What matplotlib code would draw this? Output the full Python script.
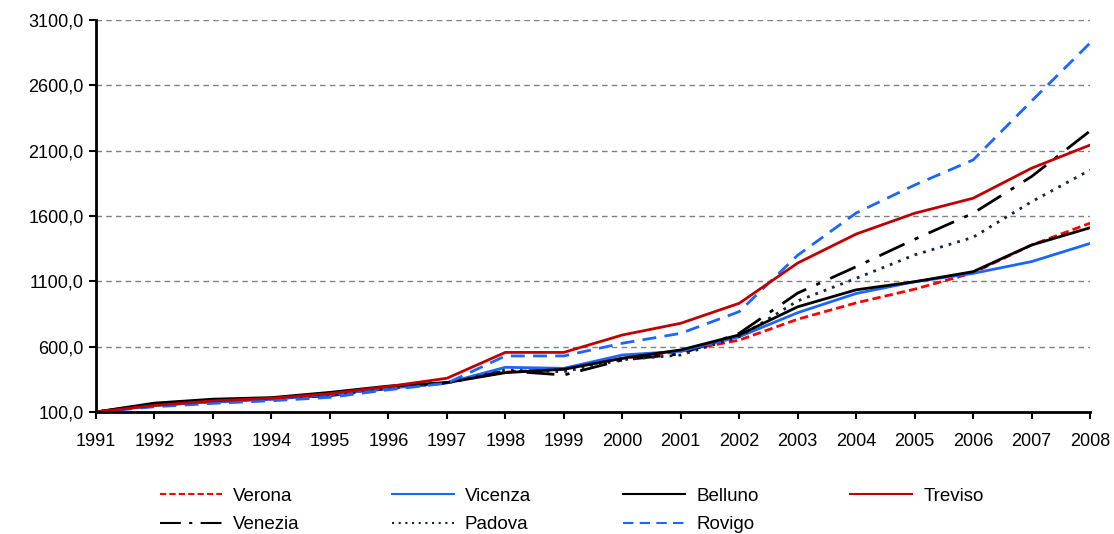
import numpy as np
import matplotlib.pyplot as plt
from matplotlib.ticker import FuncFormatter

plt.rcParams['font.family'] = ['Liberation Sans', 'DejaVu Sans']

years = list(range(1991, 2009))

# index values
verona  = [100, 150, 180, 200, 230, 285, 325, 405, 430, 510, 565, 650, 810, 935, 1040, 1165, 1378, 1545]
vicenza = [100, 150, 178, 198, 232, 282, 322, 442, 434, 536, 565, 676, 860, 1007, 1097, 1161, 1251, 1390]
belluno = [100, 168, 198, 210, 250, 298, 325, 401, 427, 511, 575, 690, 905, 1035, 1097, 1174, 1378, 1510]
treviso = [100, 150, 185, 205, 240, 295, 358, 556, 556, 689, 779, 932, 1240, 1462, 1621, 1736, 1966, 2143]
venezia = [100, 160, 178, 200, 225, 280, 325, 415, 383, 498, 545, 702, 1010, 1212, 1422, 1621, 1902, 2251]
padova  = [100, 162, 190, 205, 230, 282, 322, 421, 408, 500, 536, 676, 950, 1123, 1302, 1437, 1709, 1952]
rovigo  = [100, 140, 166, 186, 212, 270, 320, 529, 529, 626, 702, 868, 1300, 1623, 1837, 2029, 2480, 2924]

fig = plt.figure(figsize=(11.14, 5.34), dpi=100)
ax = fig.add_axes([0.0862, 0.2285, 0.8923, 0.734])

lw = 2.0
ax.plot(years, verona, color='#ff0000', lw=lw, ls=(0, (3, 1.5)), label='Verona')
ax.plot(years, venezia, color='black', lw=lw, ls=(0, (10, 4, 1.5, 4)), label='Venezia')
ax.plot(years, vicenza, color='#1a66ff', lw=lw, ls='-', label='Vicenza')
ax.plot(years, padova, color='#17243d', lw=lw, ls=(0, (1, 2.2)), label='Padova')
ax.plot(years, belluno, color='black', lw=lw, ls='-', label='Belluno')
ax.plot(years, rovigo, color='#1a66ff', lw=lw, ls=(0, (5, 3)), label='Rovigo')
ax.plot(years, treviso, color='#c00000', lw=lw, ls='-', label='Treviso')

ax.set_xlim(1991, 2008)
ax.set_ylim(100, 3100)
ax.set_yticks(np.arange(100, 3101, 500))
ax.set_xticks(years)
ax.yaxis.set_major_formatter(FuncFormatter(lambda v, p: f"{v:.1f}".replace('.', ',')))
ax.yaxis.grid(True, color='#808080', ls=(0, (4, 3)), lw=1.0)
ax.set_axisbelow(True)

for s in ['top', 'right']:
    ax.spines[s].set_visible(False)
for s in ['left', 'bottom']:
    ax.spines[s].set_linewidth(2.0)
ax.tick_params(axis='both', labelsize=13, direction='out', width=1.5, length=5)
ax.tick_params(axis='x', pad=10)
ax.tick_params(axis='y', pad=4)

leg = fig.legend(loc='upper left', bbox_to_anchor=(0.132, 0.111), ncol=4, frameon=False,
                 fontsize=13.5, handlelength=3.3, columnspacing=4.9, handletextpad=0.6,
                 labelspacing=0.6, borderpad=0.2)
for h in leg.get_lines():
    h.set_linewidth(1.5)

fig.savefig('out.png', dpi=100)
